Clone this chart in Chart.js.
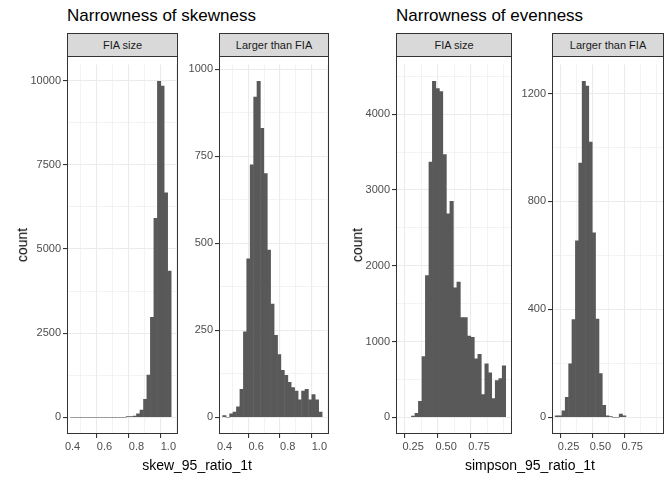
<!DOCTYPE html>
<html>
<head>
<meta charset="utf-8">
<script src="https://cdn.jsdelivr.net/npm/chart.js@4.4.0/dist/chart.umd.min.js"></script>
<style>
  body { margin: 0; background: #fff; font-family: "Liberation Sans", Arial, sans-serif; }
  #wrap { position: relative; width: 672px; height: 480px; overflow: hidden; }
  .abs { position: absolute; }
  .title { font-size: 17px; color: #000; }
  .strip { background: #d9d9d9; border: 1px solid #333; box-sizing: border-box; font-size: 11px; color: #1a1a1a; text-align: center; line-height: 22px; }
  .frame { border: 1px solid #333; box-sizing: border-box; pointer-events: none; }
  .axt { font-size: 14px; color: #000; }
</style>
</head>
<body>
<div id="wrap"></div>
<script>
// Data
const skewBins = [0.399,0.421,0.443,0.464,0.486,0.508,0.530,0.551,0.573,0.595,0.616,0.638,0.660,0.681,0.703,0.725,0.746,0.768,0.790,0.811,0.833,0.855,0.876,0.898,0.920,0.942,0.963,0.985,1.007];
const skewFia = [0,0,0,0,0,0,0,0,0,0,0,0,0,0,0,0,20,20,30,100,210,530,1250,2970,5910,9980,9840,6670,4340];
const skewLarger = [5,0,10,15,30,80,245,455,725,920,965,830,700,480,325,235,180,135,120,100,85,75,50,75,80,50,65,50,15];
const simpsonBinsFia = [0.250,0.277,0.303,0.330,0.356,0.383,0.409,0.436,0.462,0.489,0.515,0.542,0.568,0.595,0.621,0.648,0.674,0.701,0.727,0.754,0.780,0.807,0.833,0.860,0.886,0.913,0.939];
const simpsonFia = [15,50,210,800,1870,3370,4435,4340,4300,3470,2685,2850,1710,1785,1315,1315,1070,1055,770,830,300,705,585,245,485,510,680];
const simpsonBinsLarger = [0.158,0.184,0.211,0.237,0.264,0.290,0.317,0.343,0.370,0.396,0.423,0.449,0.476,0.502,0.529,0.555,0.582,0.608,0.635,0.661,0.688];
const simpsonLarger = [5,5,24,74,198,362,654,942,1245,1228,1020,684,364,162,44,5,2,0,0,12,5];

const skewXTicks = [0.4, 0.6, 0.8, 1.0];
const simpsonXTicks = [0.25, 0.50, 0.75];
const yTicksSkewFia = [0, 2500, 5000, 7500, 10000];
const yTicksSkewLarger = [0, 250, 500, 750, 1000];
const yTicksSimpFia = [0, 1000, 2000, 3000, 4000];
const yTicksSimpLarger = [0, 400, 800, 1200];

const wrap = document.getElementById('wrap');
const TOP = 56, H = 378, YW = 46, XH = 26;

function addDiv(cls, css, text) {
    const d = document.createElement('div');
    d.className = 'abs ' + cls;
    Object.assign(d.style, css);
    if (text) d.textContent = text;
    wrap.appendChild(d);
    return d;
}

function withMinors(major) {
    const step = major[1] - major[0];
    const out = [];
    for (let i = -1; i < major.length; i++) {
        const v = major[0] + i * step;
        if (i >= 0) out.push({ value: v, major: true });
        out.push({ value: v + step / 2, major: false });
    }
    return out;
}

function panel(left, width, label, bins, counts, xr, xTicks, yTicks, digits) {
    addDiv('strip', { left: left + 'px', top: '33px', width: width + 'px', height: '24px' }, label);
    const c = document.createElement('canvas');
    const box = addDiv('', { left: (left - YW) + 'px', top: TOP + 'px', width: (width + YW) + 'px', height: (H + XH) + 'px' });
    box.appendChild(c);
    addDiv('frame', { left: left + 'px', top: TOP + 'px', width: width + 'px', height: H + 'px' });

    const ymax = Math.max(...counts);
    const isMajor = (list, v) => list.some(t => Math.abs(t - v) < 1e-9);
    new Chart(c, {
        type: 'bar',
        data: {
            datasets: [{
                data: bins.map((b, i) => ({ x: b, y: counts[i] })),
                backgroundColor: '#595959',
                borderWidth: 0,
                barPercentage: 1,
                categoryPercentage: 1
            }]
        },
        options: {
            responsive: true,
            maintainAspectRatio: false,
            animation: false,
            layout: { padding: 0 },
            plugins: { legend: { display: false }, tooltip: { enabled: false } },
            scales: {
                x: {
                    type: 'linear', min: xr[0], max: xr[1], offset: false,
                    afterBuildTicks: s => { s.ticks = withMinors(xTicks).filter(t => t.value >= xr[0] && t.value <= xr[1]); },
                    afterFit: s => { s.height = XH; },
                    ticks: {
                        autoSkip: false, maxRotation: 0, color: '#4d4d4d', font: { size: 11 }, padding: 2,
                        callback: v => isMajor(xTicks, v) ? v.toFixed(digits) : ''
                    },
                    grid: {
                        color: '#ebebeb',
                        lineWidth: ctx => ctx.tick && isMajor(xTicks, ctx.tick.value) ? 1.1 : 0.6,
                        tickColor: ctx => ctx.tick && isMajor(xTicks, ctx.tick.value) ? '#333' : 'rgba(0,0,0,0)',
                        tickLength: 4, drawTicks: true
                    },
                    border: { display: false }
                },
                y: {
                    min: -0.05 * ymax, max: 1.05 * ymax,
                    afterBuildTicks: s => { s.ticks = withMinors(yTicks).filter(t => t.value >= s.min && t.value <= s.max); },
                    afterFit: s => { s.width = YW; },
                    ticks: {
                        autoSkip: false, color: '#4d4d4d', font: { size: 11 }, padding: 2,
                        callback: v => isMajor(yTicks, v) ? String(v) : ''
                    },
                    grid: {
                        color: '#ebebeb',
                        lineWidth: ctx => ctx.tick && isMajor(yTicks, ctx.tick.value) ? 1.1 : 0.6,
                        tickColor: ctx => ctx.tick && isMajor(yTicks, ctx.tick.value) ? '#333' : 'rgba(0,0,0,0)',
                        tickLength: 4, drawTicks: true
                    },
                    border: { display: false }
                }
            }
        }
    });
}

// Left plot: skewness
addDiv('title', { left: '67px', top: '6px' }, 'Narrowness of skewness');
panel(67, 111, 'FIA size', skewBins, skewFia, [0.365, 1.05], skewXTicks, yTicksSkewFia, 1);
panel(219, 110, 'Larger than FIA', skewBins, skewLarger, [0.365, 1.05], skewXTicks, yTicksSkewLarger, 1);
addDiv('axt', { left: '5px', top: '245px', transform: 'translate(0,-50%) rotate(-90deg)', transformOrigin: 'center' }, 'count');
addDiv('axt', { left: '197px', top: '457px', transform: 'translateX(-50%)' }, 'skew_95_ratio_1t');

// Right plot: evenness
addDiv('title', { left: '396px', top: '6px' }, 'Narrowness of evenness');
panel(396, 116, 'FIA size', simpsonBinsFia, simpsonFia, [0.12, 1.0], simpsonXTicks, yTicksSimpFia, 2);
panel(552, 112, 'Larger than FIA', simpsonBinsLarger, simpsonLarger, [0.12, 1.0], simpsonXTicks, yTicksSimpLarger, 2);
addDiv('axt', { left: '340px', top: '245px', transform: 'translate(0,-50%) rotate(-90deg)', transformOrigin: 'center' }, 'count');
addDiv('axt', { left: '530px', top: '457px', transform: 'translateX(-50%)' }, 'simpson_95_ratio_1t');
</script>
</body>
</html>
